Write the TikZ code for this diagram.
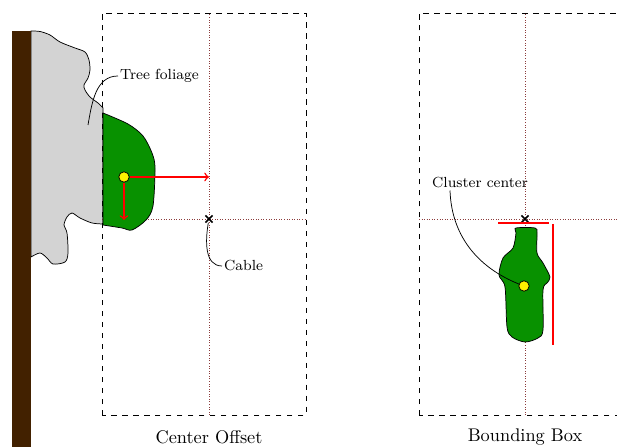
\documentclass[tikz,border=0pt]{standalone}
\usetikzlibrary{shapes.misc,calc}
\definecolor{trunkbrown}{RGB}{66,33,0}
\definecolor{leafgreen}{RGB}{8,145,0}
\definecolor{foliagegray}{RGB}{211,211,211}
\definecolor{guidebrown}{RGB}{140,60,60}
\begin{document}
\begin{tikzpicture}[x=0.0192cm, y=0.0192cm,
  frame/.style={dashed},
  guide/.style={guidebrown, densely dotted},
  cluster/.style={fill=leafgreen, draw=black},
  centre/.style={circle, draw=black, fill=yellow, inner sep=0pt, minimum size=2mm},
  cable/.style={cross out, draw=black, thick, inner sep=0pt, minimum size=1.1mm},
  offset/.style={red, thick, ->},
  bound/.style={red, thick},
  note/.style={font=\footnotesize, inner sep=1pt},
  caption/.style={font=\normalsize}]
\useasboundingbox (0,0) rectangle (617,447);
% tree foliage and trunk
\filldraw[fill=foliagegray, draw=black] (31,416) -- plot[smooth] coordinates {
    (31,416) (40,415.5) (50,412) (60,405) (75,399) (85,395) (89,387) (90,377)
    (88,369) (84,362) (85,357) (90,350) (98,344) (103,339)}
  -- (103,223) -- plot[smooth] coordinates {
    (103,223) (92,224) (80,229) (72,234) (67,230) (64,222) (67,214) (68,194)
    (65,185) (53,183) (47,189) (40,194) (31,190)}
  -- cycle;
\fill[trunkbrown] (12,0) rectangle (31,416);
% center offset
\draw[frame] (102,32) rectangle (306,434);
\draw[guide] (209,32) -- (209,434);
\draw[guide] (102,228) -- (306,228);
\filldraw[cluster] plot[smooth] coordinates {
    (103,334) (128,323) (143,311) (152,294) (155,279) (153,241) (146,227) (132,217) (122,219) (103,222)}
  -- cycle;
\node[centre] (c1) at (124,270) {};
\coordinate (dx) at (209,270);
\coordinate (dy) at (124,227);
\draw[offset] (c1) -- (dx);
\draw[offset] (c1) -- (dy);
\node[cable] (k1) at (209,228) {};
\node[note, anchor=west] (tf) at (118,371) {Tree foliage};
\draw (tf.west) to[out=180, in=80] (88,322);
\node[note, anchor=west] (cb) at (222,181) {Cable};
\draw (k1) to[out=-100, in=180] (cb.west);
\node[caption] (co) at (209,10) {Center Offset};
% bounding box
\draw[frame] (419,32) rectangle (623,434);
\draw[guide] (525,32) -- (525,434);
\draw[guide] (419,228) -- (623,228);
\filldraw[cluster] plot[smooth cycle] coordinates {
    (516,219) (535,219) (537,214) (537,194) (543,184) (550,170) (547,164) (543,157)
    (543,117) (538,109) (525,105) (512,110) (507,120) (505,160) (499,172) (503,189)
    (513,199) (516,214)};
\node[cable] (k2) at (525,228) {};
\coordinate (bx1) at (498,224);
\coordinate (bx2) at (549,224);
\coordinate (by1) at (553,223);
\coordinate (by2) at (553,102);
\draw[bound] (bx1) -- (bx2);
\draw[bound] (by1) -- (by2);
\node[note] (cc) at (480,264) {Cluster center};
\coordinate (c2) at (524,161);
\draw ($(cc.south west)!0.2!(cc.south east)$) to[out=-88, in=160] (c2);
\node[centre] (y2) at (c2) {};
\node[caption] (bb) at (525,10) {Bounding Box};
\end{tikzpicture}
\end{document}
